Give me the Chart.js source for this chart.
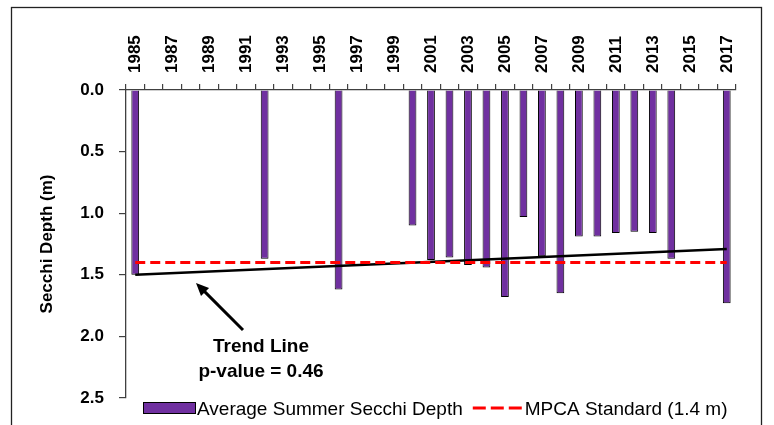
<!DOCTYPE html>
<html>
<head>
<meta charset="utf-8">
<script src="https://cdn.jsdelivr.net/npm/chart.js@4/dist/chart.umd.min.js"></script>
<style>
  html, body { margin: 0; padding: 0; background: #fff; }
  #wrap { width: 774px; height: 425px; position: relative; }
</style>
</head>
<body>
<div id="wrap"><canvas id="secchi-chart"></canvas></div>
<script>
// Data
const years = ['1985', '1986', '1987', '1988', '1989', '1990', '1991', '1992', '1993', '1994', '1995',
    '1996', '1997', '1998', '1999', '2000', '2001', '2002', '2003', '2004', '2005', '2006', '2007',
    '2008', '2009', '2010', '2011', '2012', '2013', '2014', '2015', '2016', '2017'];
const secchiDepth = [1.50, null, null, null, null, null, null, 1.37, null, null, null,
    1.62, null, null, null, 1.10, 1.38, 1.36, 1.42, 1.44, 1.68, 1.03, 1.35,
    1.65, 1.19, 1.19, 1.16, 1.15, 1.16, 1.37, null, null, 1.73];
// trend line endpoints (1985 and 2017)
const trendLine = [1.50, null, null, null, null, null, null, null, null, null, null,
    null, null, null, null, null, null, null, null, null, null, null, null,
    null, null, null, null, null, null, null, null, null, 1.29];
const mpcaStandard = [1.4, null, null, null, null, null, null, null, null, null, null,
    null, null, null, null, null, null, null, null, null, null, null, null,
    null, null, null, null, null, null, null, null, null, 1.4];
const depthTicks = [0, 0.5, 1.0, 1.5, 2.0, 2.5];

const FONT = '"Liberation Sans", Arial, sans-serif';
const colors = {
    bar: '#7030A0',
    std: '#FF0000',
    trend: '#000000',
    axis: '#404040'
};

// white background + outer frame
const framePlugin = {
    id: 'frame',
    beforeDraw(chart) {
        const { ctx } = chart;
        ctx.save();
        ctx.fillStyle = '#fff';
        ctx.fillRect(0, 0, chart.width, chart.height);
        ctx.strokeStyle = '#222';
        ctx.lineWidth = 1.3;
        ctx.strokeRect(11.5, 7.5, 750, 440);
        ctx.restore();
    }
};

// custom legend + trend annotation
const extrasPlugin = {
    id: 'extras',
    afterDraw(chart) {
        const { ctx } = chart;
        const ds = chart.data.datasets;
        ctx.save();

        // legend row
        ctx.font = '19px ' + FONT;
        ctx.textBaseline = 'alphabetic';
        ctx.textAlign = 'left';
        let x = 143;
        const baseY = 415;
        ctx.fillStyle = colors.bar;
        ctx.fillRect(x, 402.5, 52, 11);
        ctx.strokeStyle = '#000';
        ctx.lineWidth = 1;
        ctx.strokeRect(x + 0.5, 402.5, 52, 11);
        x += 54;
        ctx.fillStyle = '#000';
        ctx.fillText(ds[0].label, x, baseY);
        x += ctx.measureText(ds[0].label).width + 10;
        ctx.strokeStyle = colors.std;
        ctx.lineWidth = 3;
        ctx.setLineDash([13, 5]);
        ctx.beginPath();
        ctx.moveTo(x, 408);
        ctx.lineTo(x + 49, 408);
        ctx.stroke();
        ctx.setLineDash([]);
        x += 52;
        ctx.fillText(ds[2].label, x, baseY);

        // trend annotation
        ctx.strokeStyle = '#000';
        ctx.fillStyle = '#000';
        ctx.lineWidth = 3;
        const tip = { x: 196, y: 283 };
        const tail = { x: 243, y: 330 };
        const ang = Math.atan2(tail.y - tip.y, tail.x - tip.x);
        ctx.beginPath();
        ctx.moveTo(tail.x, tail.y);
        ctx.lineTo(tip.x + Math.cos(ang) * 8, tip.y + Math.sin(ang) * 8);
        ctx.stroke();
        ctx.beginPath();
        ctx.moveTo(tip.x, tip.y);
        ctx.lineTo(tip.x + Math.cos(ang + 0.42) * 14, tip.y + Math.sin(ang + 0.42) * 14);
        ctx.lineTo(tip.x + Math.cos(ang - 0.42) * 14, tip.y + Math.sin(ang - 0.42) * 14);
        ctx.closePath();
        ctx.fill();

        ctx.font = 'bold 19px ' + FONT;
        ctx.textAlign = 'center';
        ctx.fillText('Trend Line', 261, 352);
        ctx.fillText('p-value = 0.46', 261, 377);
        ctx.restore();
    }
};

new Chart(document.getElementById('secchi-chart'), {
    type: 'bar',
    data: {
        labels: years,
        datasets: [{
            label: 'Average Summer Secchi Depth',
            data: secchiDepth,
            backgroundColor: colors.bar,
            borderColor: '#000',
            borderWidth: 1,
            barPercentage: 0.42,
            categoryPercentage: 1,
            order: 3
        }, {
            type: 'line',
            label: 'Trend Line',
            data: trendLine,
            borderColor: colors.trend,
            borderWidth: 2.5,
            pointRadius: 0,
            spanGaps: true,
            order: 2
        }, {
            type: 'line',
            label: 'MPCA Standard (1.4 m)',
            data: mpcaStandard,
            borderColor: colors.std,
            borderWidth: 3,
            borderDash: [10, 5],
            pointRadius: 0,
            spanGaps: true,
            order: 1
        }]
    },
    options: {
        responsive: true,
        maintainAspectRatio: false,
        animation: false,
        layout: { padding: { left: 0, top: 0, right: 38, bottom: 27 } },
        plugins: {
            legend: { display: false },
            tooltip: { enabled: false }
        },
        scales: {
            x: {
                position: 'top',
                offset: true,
                grid: { drawOnChartArea: false, offset: true, tickLength: 6, color: colors.axis, lineWidth: 1.2 },
                border: { color: colors.axis, width: 1.3 },
                ticks: {
                    autoSkip: false,
                    minRotation: 90,
                    maxRotation: 90,
                    padding: 11,
                    labelOffset: 20.5,
                    color: '#000',
                    font: { family: FONT, size: 17, weight: 'bold' },
                    callback: (v, i) => (i % 2 === 0 ? years[i] : '')
                },
                afterFit(scale) { scale.height = 90; }
            },
            y: {
                reverse: true,
                min: depthTicks[0],
                max: depthTicks[depthTicks.length - 1],
                grid: { drawOnChartArea: false, tickLength: 7, color: colors.axis, lineWidth: 1.2 },
                border: { color: colors.axis, width: 1.3 },
                afterBuildTicks(scale) { scale.ticks = depthTicks.map(v => ({ value: v })); },
                ticks: {
                    padding: 15,
                    color: '#000',
                    font: { family: FONT, size: 17, weight: 'bold' },
                    callback: v => Number(v).toFixed(1)
                },
                title: {
                    display: true,
                    text: 'Secchi Depth (m)',
                    color: '#000',
                    padding: { top: 37, bottom: 0 },
                    font: { family: FONT, size: 17, weight: 'bold', lineHeight: 1.2 }
                },
                afterFit(scale) { scale.width = 126; }
            }
        }
    },
    plugins: [framePlugin, extrasPlugin]
});
</script>
</body>
</html>
